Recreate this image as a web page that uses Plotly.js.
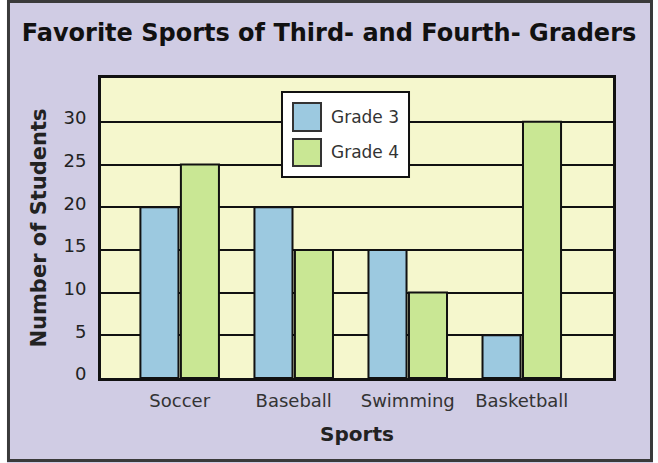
<!DOCTYPE html>
<html>
<head>
<meta charset="utf-8">
<script src="https://cdn.plot.ly/plotly-3.0.1.min.js"></script>
<style>
  html, body { margin: 0; padding: 0; background: #ffffff; }
  #chart { width: 658px; height: 463px; }
</style>
</head>
<body>
<div id="chart"></div>
<script>
// ---- data ----
const sports = ["Soccer", "Baseball", "Swimming", "Basketball"];
const grade3Name = "Grade 3";
const grade4Name = "Grade 4";
const grade3 = [20, 20, 15, 5];
const grade4 = [25, 15, 10, 30];
const yTicks = [0, 5, 10, 15, 20, 25, 30];

const chartTitle = "Favorite Sports of Third- and Fourth- Graders";
const xTitle = "Sports";
const yTitle = "Number of Students";

// ---- styles ----
const blue = "#9cc9e0";
const green = "#c9e794";
const plotBg = "#f5f7cd";
const paperBg = "#d0cce4";
const font = "DejaVu Sans, Arial, sans-serif";

const traces = [
  {
    type: "bar", name: grade3Name, x: sports, y: grade3,
    marker: { color: blue, line: { color: "#111", width: 2 } },
    showlegend: false, hoverinfo: "x+y+name"
  },
  {
    type: "bar", name: grade4Name, x: sports, y: grade4,
    marker: { color: green, line: { color: "#111", width: 2 } },
    showlegend: false, hoverinfo: "x+y+name"
  }
];

// legend drawn as a framed box with large swatches
const legendItems = [
  { name: grade3Name, color: blue, y0: 0.8233, y1: 0.9167, ty: 0.870 },
  { name: grade4Name, color: green, y0: 0.7067, y1: 0.7967, ty: 0.752 }
];

const shapes = [
  // white margin outside frame
  { type: "rect", xref: "paper", yref: "paper", x0: -0.20, x1: -0.1836, y0: -0.29, y1: 1.27,
    fillcolor: "#ffffff", line: { width: 0 }, layer: "above" },
  { type: "rect", xref: "paper", yref: "paper", x0: 1.0781, x1: 1.10, y0: -0.29, y1: 1.27,
    fillcolor: "#ffffff", line: { width: 0 }, layer: "above" },
  // outer frame
  { type: "rect", xref: "paper", yref: "paper", x0: -0.1807, x1: 1.0752, y0: -0.275, y1: 1.255,
    fillcolor: "rgba(0,0,0,0)", line: { color: "#3a3a3a", width: 3 }, layer: "above" },
  // legend box
  { type: "rect", xref: "paper", yref: "paper", x0: 0.3535, x1: 0.6016, y0: 0.67, y1: 0.9533,
    fillcolor: "#ffffff", line: { color: "#111", width: 2 }, layer: "above" }
];
const annotations = [];
legendItems.forEach(it => {
  shapes.push({ type: "rect", xref: "paper", yref: "paper", x0: 0.375, x1: 0.4297,
    y0: it.y0, y1: it.y1, fillcolor: it.color, line: { color: "#333", width: 2 }, layer: "above" });
  annotations.push({ xref: "paper", yref: "paper", x: 0.4453, y: it.ty, xanchor: "left", yanchor: "middle",
    text: it.name, showarrow: false, font: { family: font, size: 17, color: "#333" } });
});

const layout = {
  width: 658, height: 463,
  margin: { l: 101, r: 45, t: 78, b: 85 },
  paper_bgcolor: paperBg,
  plot_bgcolor: plotBg,
  barmode: "group",
  bargap: 0.29,
  bargroupgap: 0.06,
  showlegend: false,
  title: {
    text: chartTitle,
    font: { family: font, size: 24, weight: "bold", color: "#111" },
    x: 0.5, xanchor: "center", xref: "container",
    y: 0.929, yanchor: "middle", yref: "container"
  },
  xaxis: {
    type: "category",
    range: [-0.69, 3.80],
    showgrid: false, zeroline: false,
    showline: true, mirror: true, linecolor: "#111", linewidth: 3,
    ticks: "",
    tickfont: { family: font, size: 18, color: "#333" },
    ticklabelstandoff: 4,
    title: { text: xTitle, font: { family: font, size: 20, weight: "bold", color: "#222" }, standoff: 18 }
  },
  yaxis: {
    range: [0, 35.13],
    tickmode: "array", tickvals: yTicks, ticktext: yTicks.map(String),
    showgrid: true, gridcolor: "#111", gridwidth: 2,
    zeroline: false,
    showline: true, mirror: true, linecolor: "#111", linewidth: 3,
    ticks: "",
    tickfont: { family: font, size: 18, color: "#222" },
    ticklabelstandoff: 8,
    ticklabelshift: -4,
    title: { text: yTitle, font: { family: font, size: 21, weight: "bold", color: "#222" }, standoff: 12 }
  },
  shapes: shapes,
  annotations: annotations
};

Plotly.newPlot("chart", traces, layout, { displayModeBar: false, staticPlot: true });
</script>
</body>
</html>
